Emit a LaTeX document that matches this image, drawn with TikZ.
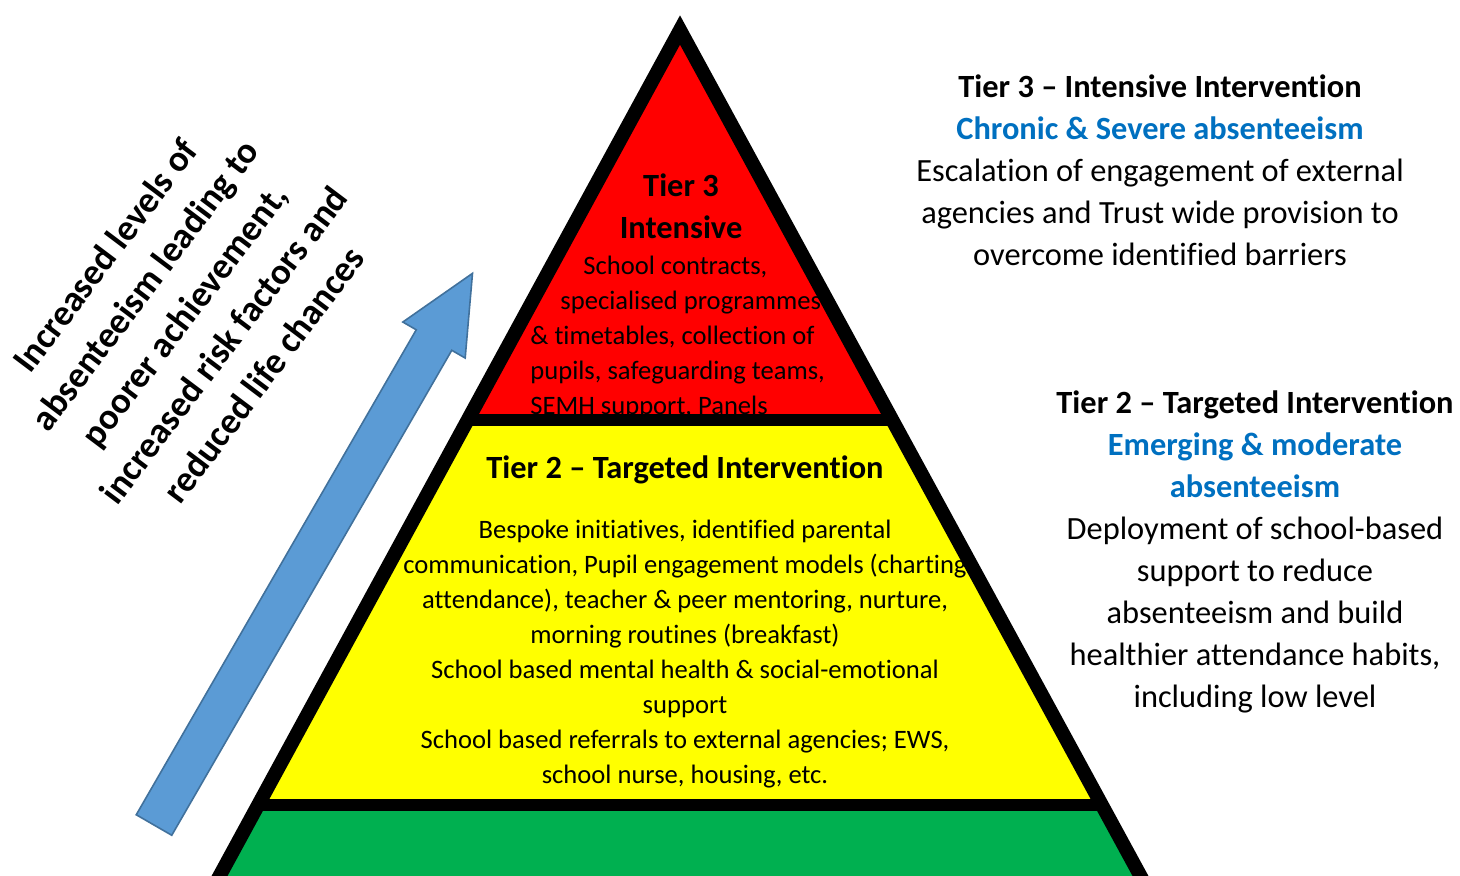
\documentclass[tikz,border=0pt]{standalone}
\usepackage{fontspec}
\setmainfont{Carlito}[Ligatures=NoCommon]
\usepackage{tikz}
\definecolor{tierred}{HTML}{FF0000}
\definecolor{tieryellow}{HTML}{FFFF00}
\definecolor{tiergreen}{HTML}{00B050}
\definecolor{arrowblue}{HTML}{5B9BD5}
\definecolor{arrowedge}{HTML}{41719C}
\definecolor{headblue}{HTML}{0070C0}

\begin{document}
\begin{tikzpicture}[x=0.5pt,y=-0.5pt,
    bigtext/.style={inner sep=0pt,align=center,font=\fontsize{16.2}{21}\selectfont},
    smalltext/.style={inner sep=0pt,align=center,font=\fontsize{13.3}{17.5}\selectfont},
    slanttext/.style={inner sep=0pt,align=center,rotate=53,font=\bfseries\fontsize{18.3}{24.8}\selectfont}]

    \useasboundingbox (0,0) rectangle (1460,875);
    \clip (0,0) rectangle (1460,875);

    % pyramid fills
    \fill[tiergreen] (680,30) -- (152,1000) -- (1208,1000) -- cycle;
    \fill[tieryellow] (680,30) -- (258,805) -- (1102,805) -- cycle;
    \fill[tierred] (680,30) -- (468,420) -- (892,420) -- cycle;

    % texts inside the pyramid
    \node[bigtext,font=\bfseries\fontsize{16.2}{21}\selectfont] (t3head) at (681,206) {Tier 3\\Intensive};
    \node[smalltext,align=left,anchor=west] (t3body) at (530,337)
        {\hspace*{26.5pt}School contracts,\\
         \hspace*{15pt}specialised programmes\\
         \& timetables, collection of\\
         pupils, safeguarding teams,\\
         SEMH support, Panels};
    \node[bigtext,font=\bfseries\fontsize{16.2}{21}\selectfont] (t2head) at (685,470) {Tier 2 – Targeted Intervention};
    \node[smalltext] (t2body) at (685,654.5)
        {Bespoke initiatives, identified parental\\
         communication, Pupil engagement models (charting\\
         attendance), teacher \& peer mentoring, nurture,\\
         morning routines (breakfast)\\
         School based mental health \& social-emotional\\
         support\\
         School based referrals to external agencies; EWS,\\
         school nurse, housing, etc.};

    % bands and outline
    \draw[line width=6pt] (258,805) -- (1102,805);
    \draw[line width=6pt] (468,420) -- (892,420);
    \draw[line width=7pt] (680,30) -- (152,1000) -- (1208,1000) -- cycle;

    % side notes
    \node[bigtext] (t3note) at (1160,170)
        {\textbf{Tier 3 – Intensive Intervention}\\
         {\color{headblue}\bfseries Chronic \& Severe absenteeism}\\
         Escalation of engagement of external\\
         agencies and Trust wide provision to\\
         overcome identified barriers};
    \node[bigtext] (t2note) at (1255,552)
        {\textbf{Tier 2 – Targeted Intervention}\\
         {\color{headblue}\bfseries Emerging \& moderate}\\
         {\color{headblue}\bfseries absenteeism}\\
         Deployment of school-based\\
         support to reduce\\
         absenteeism and build\\
         healthier attendance habits,\\
         including low level};

    % rising arrow
    \begin{scope}[shift={(154,825)},rotate=60]
        \draw[fill=arrowblue,draw=arrowedge,line width=0.8pt,line join=miter]
            (0,-20.5) -- (560,-20.5) -- (560,-36) -- (637,0) -- (560,36) -- (560,20.5) -- (0,20.5) -- cycle;
    \end{scope}

    \node[slanttext] (risenote) at (184,315)
        {Increased levels of\\
         absenteeism leading to\\
         poorer achievement,\\
         increased risk factors and\\
         reduced life chances};

\end{tikzpicture}
\end{document}
